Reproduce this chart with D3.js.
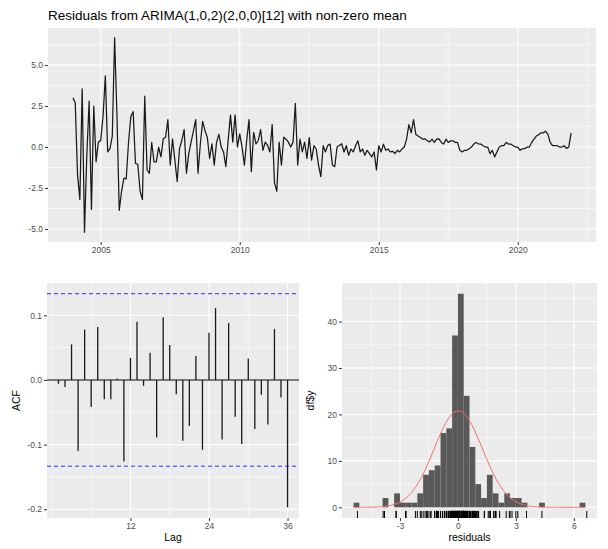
<!DOCTYPE html>
<html>
<head>
<meta charset="utf-8">
<script src="https://cdn.jsdelivr.net/npm/d3@7"></script>
<style>
  body { margin: 0; background: #fff; }
  text { font-family: "Liberation Sans", Arial, Helvetica, sans-serif; }
</style>
</head>
<body>
<svg id="chart" width="608" height="549"></svg>
<script>
// ---- data -------------------------------------------------------------
const chartTitle = "Residuals from ARIMA(1,0,2)(2,0,0)[12] with non-zero mean";

// monthly residuals, first observation January 2004
const residStartYear = 2004;
const residuals = [
  3.0, 2.7, -1.7, -3.2, 3.55, -5.2, -0.5, 2.8, -3.8, 2.5, -0.9, 0.3,
  0.4, 1.86, 4.35, -0.3, -0.1, 0.67, 6.67, 1.96, -3.87, -2.7, -1.9, -1.95,
  0.28, 1.86, 2.16, -1.0, -1.05, -2.7, -3.2, 3.1, -1.4, -1.6, 0.28, -0.9,
  -0.9, 0.0, -0.6, 0.5, 0.6, 1.67, -1.1, 0.5, -0.8, -2.1, -0.1, 0.4,
  1.07, -1.6, -0.4, 0.3, 0.97, 1.67, -1.6, 0.2, 1.57, 1.0, 0.6, -0.7,
  0.2, -1.1, 0.3, 0.77, 0.0, -0.3, -1.2, 0.4, 1.96, 0.3, 1.96, 0.0,
  0.8, 0.0, -1.1, 0.4, 1.67, -1.5, 0.9, 0.2, 0.4, 1.07, -0.2, 0.3,
  0.1, -0.3, 1.37, -2.2, -2.7, 0.3, -1.1, 0.6, 0.48, 0.3, 0.0, 0.3,
  2.66, -1.1, 0.48, -0.3, 0.3, -0.7, 0.58, -0.8, 0.08, -0.12, -1.1, -1.8,
  0.08, -0.3, 0.1, 0.18, -1.1, -1.2, 0.0, 0.1, 0.2, -0.3, 0.08, -0.5,
  -0.12, -0.3, 0.08, 0.38, -0.3, -0.12, -0.5, -0.2, -0.4, -0.6, -0.3, -1.4,
  0.08, -0.3, 0.18, -0.2, -0.12, -0.3, -0.26, -0.4, -0.2, -0.3, -0.12, 0.0,
  0.48, 1.37, 0.87, 1.67, 0.77, 0.67, 0.58, 0.48, 0.5, 0.38, 0.32, 0.48,
  0.28, 0.48, 0.5, 0.28, 0.18, 0.48, 0.28, 0.38, 0.38, 0.28, 0.28, -0.2,
  -0.3, -0.2, -0.2, -0.1, 0.0, 0.18, 0.28, 0.2, 0.18, 0.08, 0.0, 0.0,
  -0.4, -0.2, -0.6, -0.3, 0.0, 0.08, 0.08, 0.28, 0.18, 0.18, 0.08, 0.0,
  0.0, -0.2, -0.1, -0.1, 0.0, 0.0, 0.28, 0.48, 0.67, 0.75, 0.87, 0.87,
  0.97, 0.77, 0.28, 0.08, 0.08, 0.08, 0.0, 0.0, 0.08, -0.08, 0.0, 0.87
];
const timeTicks = [2005, 2010, 2015, 2020];
const residTicks = [-5, -2.5, 0, 2.5, 5];
const residTickLabels = ["-5.0", "-2.5", "0.0", "2.5", "5.0"];

// autocorrelations for lags 1..36
const acfValues = [
  -0.006, -0.011, 0.055, -0.110, 0.078, -0.042, 0.082, -0.030, -0.030, 0.002, -0.126, 0.034,
  0.090, -0.009, 0.042, -0.089, 0.097, 0.054, -0.022, -0.094, -0.071, 0.037, -0.108, 0.073,
  0.111, -0.092, 0.088, -0.057, -0.099, 0.033, -0.076, -0.023, -0.069, 0.079, -0.027, -0.197
];
const acfBound = 0.1334;
const lagTicks = [12, 24, 36];
const acfTicks = [-0.2, -0.1, 0, 0.1];
const acfTickLabels = ["-0.2", "-0.1", "0.0", "0.1"];

// histogram of residuals: bins of width 0.3 starting at -5.4
const binStart = -5.4;
const binWidth = 0.3;
const binCounts = [
  1, 0, 0, 0, 0, 2, 0, 3, 1, 1, 1, 3, 7, 8, 9, 16, 17, 37, 46, 24,
  13, 5, 2, 7, 3, 1, 3, 2, 2, 1, 0, 0, 1, 0, 0, 0, 0, 0, 0, 1
];
const histXTicks = [-3, 0, 3, 6];
const histYTicks = [0, 10, 20, 30, 40];
const normalMean = 0.02;
const normalSd = 1.25;

// ---- drawing ----------------------------------------------------------
const svg = d3.select("#chart");
const BG = "#EBEBEB", AXIS_TEXT = "#4D4D4D", TICK = "#333333";
const TICK_FS = 8.5, TITLE_FS = 10.5;

function expand(lo, hi, f = 0.05) { const r = hi - lo; return [lo - r * f, hi + r * f]; }

function panel(box) {
  const g = svg.append("g");
  g.append("rect").attr("x", box.x0).attr("y", box.y0)
    .attr("width", box.x1 - box.x0).attr("height", box.y1 - box.y0).attr("fill", BG);
  return g;
}

function grid(g, box, x, y, xMajor, xMinor, yMajor, yMinor) {
  const lines = g.append("g");
  const vx = v => v >= x.domain()[0] && v <= x.domain()[1];
  const vy = v => v >= Math.min(...y.domain()) && v <= Math.max(...y.domain());
  yMinor.filter(vy).forEach(v => lines.append("line").attr("x1", box.x0).attr("x2", box.x1)
    .attr("y1", y(v)).attr("y2", y(v)).attr("stroke", "#fff").attr("stroke-width", 0.55));
  xMinor.filter(vx).forEach(v => lines.append("line").attr("y1", box.y0).attr("y2", box.y1)
    .attr("x1", x(v)).attr("x2", x(v)).attr("stroke", "#fff").attr("stroke-width", 0.55));
  yMajor.filter(vy).forEach(v => lines.append("line").attr("x1", box.x0).attr("x2", box.x1)
    .attr("y1", y(v)).attr("y2", y(v)).attr("stroke", "#fff").attr("stroke-width", 1.1));
  xMajor.filter(vx).forEach(v => lines.append("line").attr("y1", box.y0).attr("y2", box.y1)
    .attr("x1", x(v)).attr("x2", x(v)).attr("stroke", "#fff").attr("stroke-width", 1.1));
}

function axes(box, x, y, xTicks, xLabels, yTicks, yLabels) {
  const ax = svg.append("g")
    .attr("transform", `translate(0,${box.y1})`)
    .call(d3.axisBottom(x).tickValues(xTicks).tickFormat((d, i) => xLabels[i]).tickSize(3).tickPadding(2));
  const ay = svg.append("g")
    .attr("transform", `translate(${box.x0},0)`)
    .call(d3.axisLeft(y).tickValues(yTicks).tickFormat((d, i) => yLabels[i]).tickSize(3).tickPadding(2));
  [ax, ay].forEach(a => {
    a.select(".domain").remove();
    a.selectAll(".tick line").attr("stroke", TICK).attr("stroke-width", 1);
    a.selectAll(".tick text").attr("fill", AXIS_TEXT).attr("font-size", TICK_FS)
      .attr("font-family", "Liberation Sans, Arial, sans-serif");
  });
}

// title
svg.append("text").attr("x", 48).attr("y", 20).attr("font-size", 13.5).attr("fill", "#000")
  .text(chartTitle);

// ---- time plot of residuals ----
{
  const box = { x0: 48, x1: 596, y0: 28, y1: 242 };
  const times = residuals.map((_, i) => residStartYear + i / 12);
  const x = d3.scaleLinear().domain(expand(d3.min(times), d3.max(times))).range([box.x0, box.x1]);
  const y = d3.scaleLinear().domain(expand(d3.min(residuals), d3.max(residuals))).range([box.y1, box.y0]);
  const g = panel(box);
  grid(g, box, x, y, timeTicks, [2002.5, 2007.5, 2012.5, 2017.5, 2022.5],
       residTicks, [-6.25, -3.75, -1.25, 1.25, 3.75, 6.25]);
  g.append("path").datum(residuals)
    .attr("fill", "none").attr("stroke", "#1a1a1a").attr("stroke-width", 1.25).attr("stroke-linejoin", "round")
    .attr("d", d3.line().x((d, i) => x(times[i])).y(d => y(d)));
  axes(box, x, y, timeTicks, timeTicks.map(String), residTicks, residTickLabels);
}

// ---- ACF ----
{
  const box = { x0: 47, x1: 299, y0: 283, y1: 518 };
  const lags = acfValues.map((_, i) => i + 1);
  const x = d3.scaleLinear().domain(expand(1, acfValues.length)).range([box.x0, box.x1]);
  const lo = Math.min(d3.min(acfValues), -acfBound), hi = Math.max(d3.max(acfValues), acfBound);
  const y = d3.scaleLinear().domain(expand(lo, hi)).range([box.y1, box.y0]);
  const g = panel(box);
  grid(g, box, x, y, lagTicks, [0, 6, 18, 30], acfTicks, [-0.15, -0.05, 0.05]);
  g.append("line").attr("x1", box.x0).attr("x2", box.x1).attr("y1", y(0)).attr("y2", y(0))
    .attr("stroke", "#000").attr("stroke-width", 1.1);
  g.selectAll("line.acf").data(acfValues).join("line").attr("class", "acf")
    .attr("x1", (d, i) => x(lags[i])).attr("x2", (d, i) => x(lags[i]))
    .attr("y1", y(0)).attr("y2", d => y(d)).attr("stroke", "#1a1a1a").attr("stroke-width", 1.3);
  [acfBound, -acfBound].forEach(b => g.append("line")
    .attr("x1", box.x0).attr("x2", box.x1).attr("y1", y(b)).attr("y2", y(b))
    .attr("stroke", "#0000FF").attr("stroke-width", 0.8).attr("stroke-dasharray", "4,3"));
  axes(box, x, y, lagTicks, lagTicks.map(String), acfTicks, acfTickLabels);
  svg.append("text").attr("x", (box.x0 + box.x1) / 2).attr("y", 541).attr("text-anchor", "middle")
    .attr("font-size", TITLE_FS).attr("fill", "#000").text("Lag");
  svg.append("text").attr("transform", `translate(20,${(box.y0 + box.y1) / 2}) rotate(-90)`)
    .attr("text-anchor", "middle").attr("font-size", TITLE_FS).attr("fill", "#000").text("ACF");
}

// ---- histogram with rug and normal density ----
{
  const box = { x0: 342, x1: 597, y0: 283, y1: 518 };
  const bins = binCounts.map((c, k) => ({ x0: binStart + k * binWidth, x1: binStart + (k + 1) * binWidth, count: c }));
  const x = d3.scaleLinear().domain(expand(bins[0].x0, bins[bins.length - 1].x1)).range([box.x0, box.x1]);
  const y = d3.scaleLinear().domain(expand(0, d3.max(binCounts))).range([box.y1, box.y0]);
  const g = panel(box);
  grid(g, box, x, y, histXTicks, [-4.5, -1.5, 1.5, 4.5], histYTicks, [5, 15, 25, 35, 45]);
  g.selectAll("rect.bar").data(bins.filter(b => b.count > 0)).join("rect").attr("class", "bar")
    .attr("x", d => x(d.x0)).attr("width", d => x(d.x1) - x(d.x0))
    .attr("y", d => y(d.count)).attr("height", d => y(0) - y(d.count)).attr("fill", "#595959");
  // rug of the residuals
  const rugLen = (box.y1 - box.y0) * 0.03;
  g.selectAll("line.rug").data(residuals).join("line").attr("class", "rug")
    .attr("x1", d => x(d)).attr("x2", d => x(d)).attr("y1", box.y1).attr("y2", box.y1 - rugLen)
    .attr("stroke", "#000").attr("stroke-width", 1);
  // fitted normal density scaled to counts
  const n = d3.sum(binCounts);
  const grid2 = d3.range(0, 241).map(j => bins[0].x0 + j * (bins[bins.length - 1].x1 - bins[0].x0) / 240);
  const dens = v => n * binWidth * Math.exp(-0.5 * ((v - normalMean) / normalSd) ** 2) / (normalSd * Math.sqrt(2 * Math.PI));
  g.append("path").datum(grid2).attr("fill", "none").attr("stroke", "#f2706a").attr("stroke-width", 1)
    .attr("d", d3.line().x(d => x(d)).y(d => y(dens(d))));
  axes(box, x, y, histXTicks, histXTicks.map(String), histYTicks, histYTicks.map(String));
  svg.append("text").attr("x", (box.x0 + box.x1) / 2).attr("y", 541).attr("text-anchor", "middle")
    .attr("font-size", TITLE_FS).attr("fill", "#000").text("residuals");
  svg.append("text").attr("transform", `translate(314,${(box.y0 + box.y1) / 2}) rotate(-90)`)
    .attr("text-anchor", "middle").attr("font-size", TITLE_FS).attr("fill", "#000").text("df$y");
}
</script>
</body>
</html>
